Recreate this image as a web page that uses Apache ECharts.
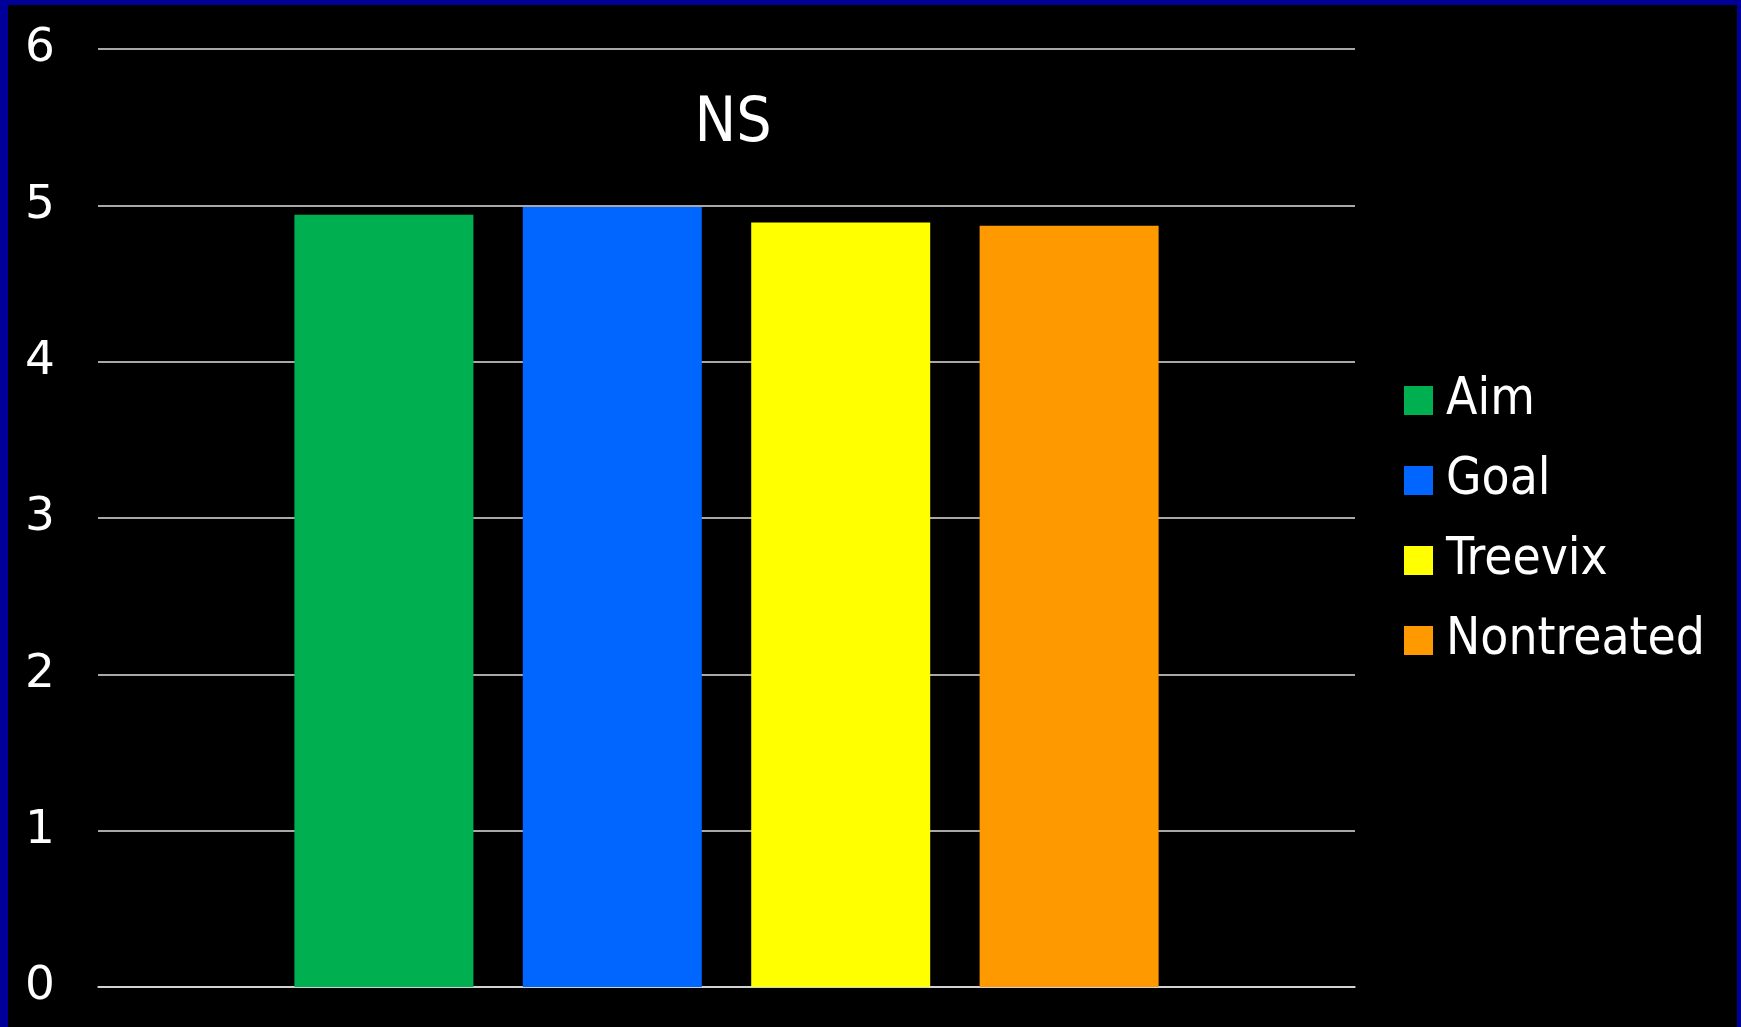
<!DOCTYPE html>
<html>
<head>
<meta charset="utf-8">
<script src="https://cdn.jsdelivr.net/npm/echarts@6/dist/echarts.min.js"></script>
<style>
  html, body { margin: 0; padding: 0; background: #000099; }
  #wrap { position: absolute; left: 0; top: 0; width: 1729px; height: 1022px;
          border-left: 8px solid #000099; border-top: 5px solid #000099; border-right: 4px solid #000099;
          background: #000; }
  #chart { width: 1729px; height: 1022px; }
</style>
</head>
<body>
<div id="wrap"><div id="chart"></div></div>
<script>
const categories = [''];
const seriesNames = ['Aim', 'Goal', 'Treevix', 'Nontreated'];
const seriesValues = [[4.94], [4.99], [4.89], [4.87]];
const seriesColors = ['#00B050', '#0066FF', '#FFFF00', '#FF9900'];
const yTicks = { min: 0, max: 6, interval: 1 };
const annotation = 'NS';

const FONT = '"DejaVu Sans Condensed", "DejaVu Sans", Verdana, sans-serif';
const FONT_REG = '"DejaVu Sans", Verdana, sans-serif';
const chart = echarts.init(document.getElementById('chart'), null, { renderer: 'canvas' });

chart.setOption({
  backgroundColor: '#000',
  animation: false,
  grid: { left: 90, right: 382, top: 44, bottom: 40, containLabel: false },
  legend: {
    orient: 'vertical',
    left: 1396,
    top: 370,
    padding: 0,
    itemWidth: 29,
    itemHeight: 29,
    itemGap: 29,
    icon: 'rect',
    data: seriesNames,
    textStyle: { color: '#fff', fontSize: 51, fontFamily: FONT, lineHeight: 49, padding: [0, 0, 0, 8] }
  },
  xAxis: {
    type: 'category',
    data: categories,
    axisLine: { show: true, lineStyle: { color: '#e0e0e0', width: 1.5 } },
    axisTick: { show: false },
    axisLabel: { show: false }
  },
  yAxis: {
    type: 'value',
    min: yTicks.min,
    max: yTicks.max,
    interval: yTicks.interval,
    axisLine: { show: false },
    axisTick: { show: false },
    axisLabel: { color: '#fff', fontSize: 47, fontFamily: FONT_REG, margin: 43 },
    splitLine: { show: true, lineStyle: { color: '#e0e0e0', width: 1.5 } }
  },
  graphic: [{
    type: 'text',
    x: 725,
    y: 120,
    style: { text: annotation, fill: '#fff', font: '62px ' + FONT, textAlign: 'center', textVerticalAlign: 'middle' }
  }],
  series: seriesNames.map((name, i) => ({
    name: name,
    type: 'bar',
    data: seriesValues[i],
    barWidth: 179,
    barGap: '27.6%',
    itemStyle: { color: seriesColors[i] }
  }))
});
</script>
</body>
</html>
